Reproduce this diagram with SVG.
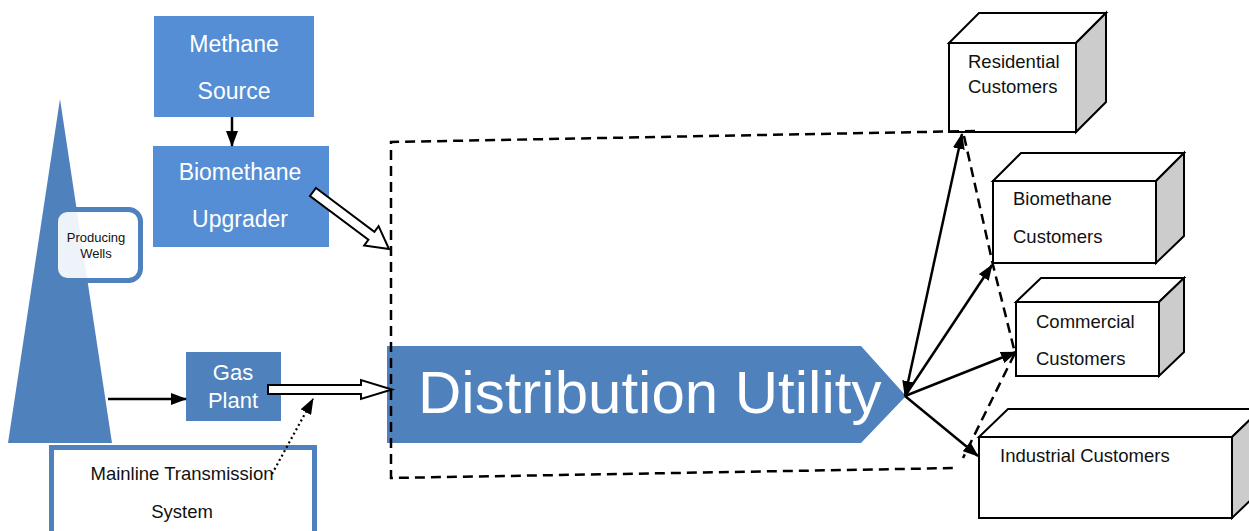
<svg xmlns="http://www.w3.org/2000/svg" width="1249" height="531" viewBox="0 0 1249 531">
  <style>
    .lbl { font-family: "Liberation Sans", Arial, sans-serif; }
    .w { fill: #ffffff; }
    .k { fill: #111111; }
    .box1 { fill: #558ed5; }
    .box2 { fill: #4f81bd; }
    .face { fill: #ffffff; stroke: #000000; stroke-width: 2; stroke-linejoin: miter; }
    .side { fill: #cccccc; stroke: #000000; stroke-width: 2; }
    .solid { stroke: #000000; stroke-width: 2.5; fill: none; }
    .dash { stroke: #000000; stroke-width: 2.5; fill: none; stroke-dasharray: 10 6; }
    .dot { stroke: #000000; stroke-width: 2.2; fill: none; stroke-dasharray: 2 3; }
    .hollow { fill: #ffffff; stroke: #000000; stroke-width: 2; stroke-linejoin: miter; }
  </style>
  <defs>
    <marker id="head" viewBox="0 0 16 12" refX="15" refY="6" markerWidth="16" markerHeight="12" markerUnits="userSpaceOnUse" orient="auto-start-reverse">
      <path d="M0,0 L16,6 L0,12 Z" fill="#000000"/>
    </marker>
  </defs>

  <rect width="1249" height="531" fill="#ffffff"/>

  <!-- producing wells: tall triangle with a label box -->
  <g id="producing-wells">
    <polygon points="60,99 112,443 8,443" class="box2"/>
    <rect x="55.5" y="209.5" width="85" height="71" rx="12" fill="#ffffff" fill-opacity="0.9" stroke="#4f81bd" stroke-width="5"/>
    <text class="lbl k" x="96" y="242" font-size="13" text-anchor="middle">Producing</text>
    <text class="lbl k" x="96" y="258" font-size="13" text-anchor="middle">Wells</text>
  </g>

  <g id="methane-source">
    <rect x="154" y="16" width="160" height="101" class="box1"/>
    <text class="lbl w" x="234" y="52" font-size="23" text-anchor="middle">Methane</text>
    <text class="lbl w" x="234" y="99" font-size="23" text-anchor="middle">Source</text>
  </g>

  <g id="biomethane-upgrader">
    <rect x="153" y="146" width="176" height="101" class="box1"/>
    <text class="lbl w" x="240" y="180" font-size="23" text-anchor="middle">Biomethane</text>
    <text class="lbl w" x="240" y="227" font-size="23" text-anchor="middle">Upgrader</text>
  </g>

  <g id="gas-plant">
    <rect x="186" y="352" width="95" height="69" class="box2"/>
    <text class="lbl w" x="233" y="380" font-size="22" text-anchor="middle">Gas</text>
    <text class="lbl w" x="233" y="408" font-size="22" text-anchor="middle">Plant</text>
  </g>

  <g id="mainline-transmission">
    <rect x="51.5" y="447.5" width="263" height="90" fill="#ffffff" stroke="#4f81bd" stroke-width="5"/>
    <text class="lbl k" x="182" y="480" font-size="18.5" text-anchor="middle">Mainline Transmission</text>
    <text class="lbl k" x="182" y="518" font-size="18.5" text-anchor="middle">System</text>
  </g>

  <g id="distribution-utility">
    <polygon points="387,346 861,346 906,396 861,443 387,443" class="box2"/>
    <text class="lbl w" x="418" y="413" font-size="60">Distribution Utility</text>
  </g>

  <!-- customer classes drawn as 3-D boxes -->
  <g id="residential-customers">
    <polygon points="949,43 979,13 1106,13 1076,43" class="face"/>
    <polygon points="1076,43 1106,13 1106,102 1076,132" class="side"/>
    <rect x="949" y="43" width="127" height="89" class="face"/>
    <text class="lbl k" x="968" y="68" font-size="18.5">Residential</text>
    <text class="lbl k" x="968" y="93" font-size="18.5">Customers</text>
  </g>

  <g id="biomethane-customers">
    <polygon points="993,181 1021,153 1184,153 1156,181" class="face"/>
    <polygon points="1156,181 1184,153 1184,236 1156,263" class="side"/>
    <rect x="993" y="181" width="163" height="82" class="face"/>
    <text class="lbl k" x="1013" y="205" font-size="18.5">Biomethane</text>
    <text class="lbl k" x="1013" y="243" font-size="18.5">Customers</text>
  </g>

  <g id="commercial-customers">
    <polygon points="1016,302 1041,278 1184,278 1159,302" class="face"/>
    <polygon points="1159,302 1184,278 1184,352 1159,376" class="side"/>
    <rect x="1016" y="302" width="143" height="74" class="face"/>
    <text class="lbl k" x="1036" y="328" font-size="18.5">Commercial</text>
    <text class="lbl k" x="1036" y="365" font-size="18.5">Customers</text>
  </g>

  <g id="industrial-customers">
    <polygon points="979,437 1008,409 1261,409 1232,437" class="face"/>
    <polygon points="1232,437 1261,409 1261,490 1232,518" class="side"/>
    <rect x="979" y="437" width="253" height="81" class="face"/>
    <text class="lbl k" x="1000" y="462" font-size="18.5">Industrial Customers</text>
  </g>

  <g id="connectors">
    <!-- dashed boundary around the utility's service area -->
    <path class="dash" d="M975,131 L391,142 L391,478 L958,468"/>
    <path class="dash" d="M964,136 L993,265 L1015,353 L963,458"/>

    <!-- supply chain -->
    <line class="solid" x1="232" y1="117" x2="232" y2="146" marker-end="url(#head)"/>
    <line class="solid" x1="108" y1="399" x2="186" y2="399" marker-end="url(#head)"/>
    <line class="dot" x1="272" y1="474" x2="313" y2="399" marker-end="url(#head)"/>

    <!-- hollow block arrows feeding the utility -->
    <polygon class="hollow" points="268,385 361,385 361,380 392,389.5 361,399 361,394 268,394"/>
    <polygon class="hollow" transform="translate(313,192) rotate(36.87)" points="0,-5 73,-5 73,-12 95,0 73,12 73,5 0,5"/>

    <!-- deliveries to customers -->
    <line class="solid" x1="905" y1="396" x2="962" y2="134" marker-start="url(#head)" marker-end="url(#head)"/>
    <line class="solid" x1="905" y1="396" x2="992" y2="265" marker-end="url(#head)"/>
    <line class="solid" x1="905" y1="396" x2="1016" y2="352" marker-end="url(#head)"/>
    <line class="solid" x1="905" y1="396" x2="978" y2="456" marker-end="url(#head)"/>
  </g>
</svg>
